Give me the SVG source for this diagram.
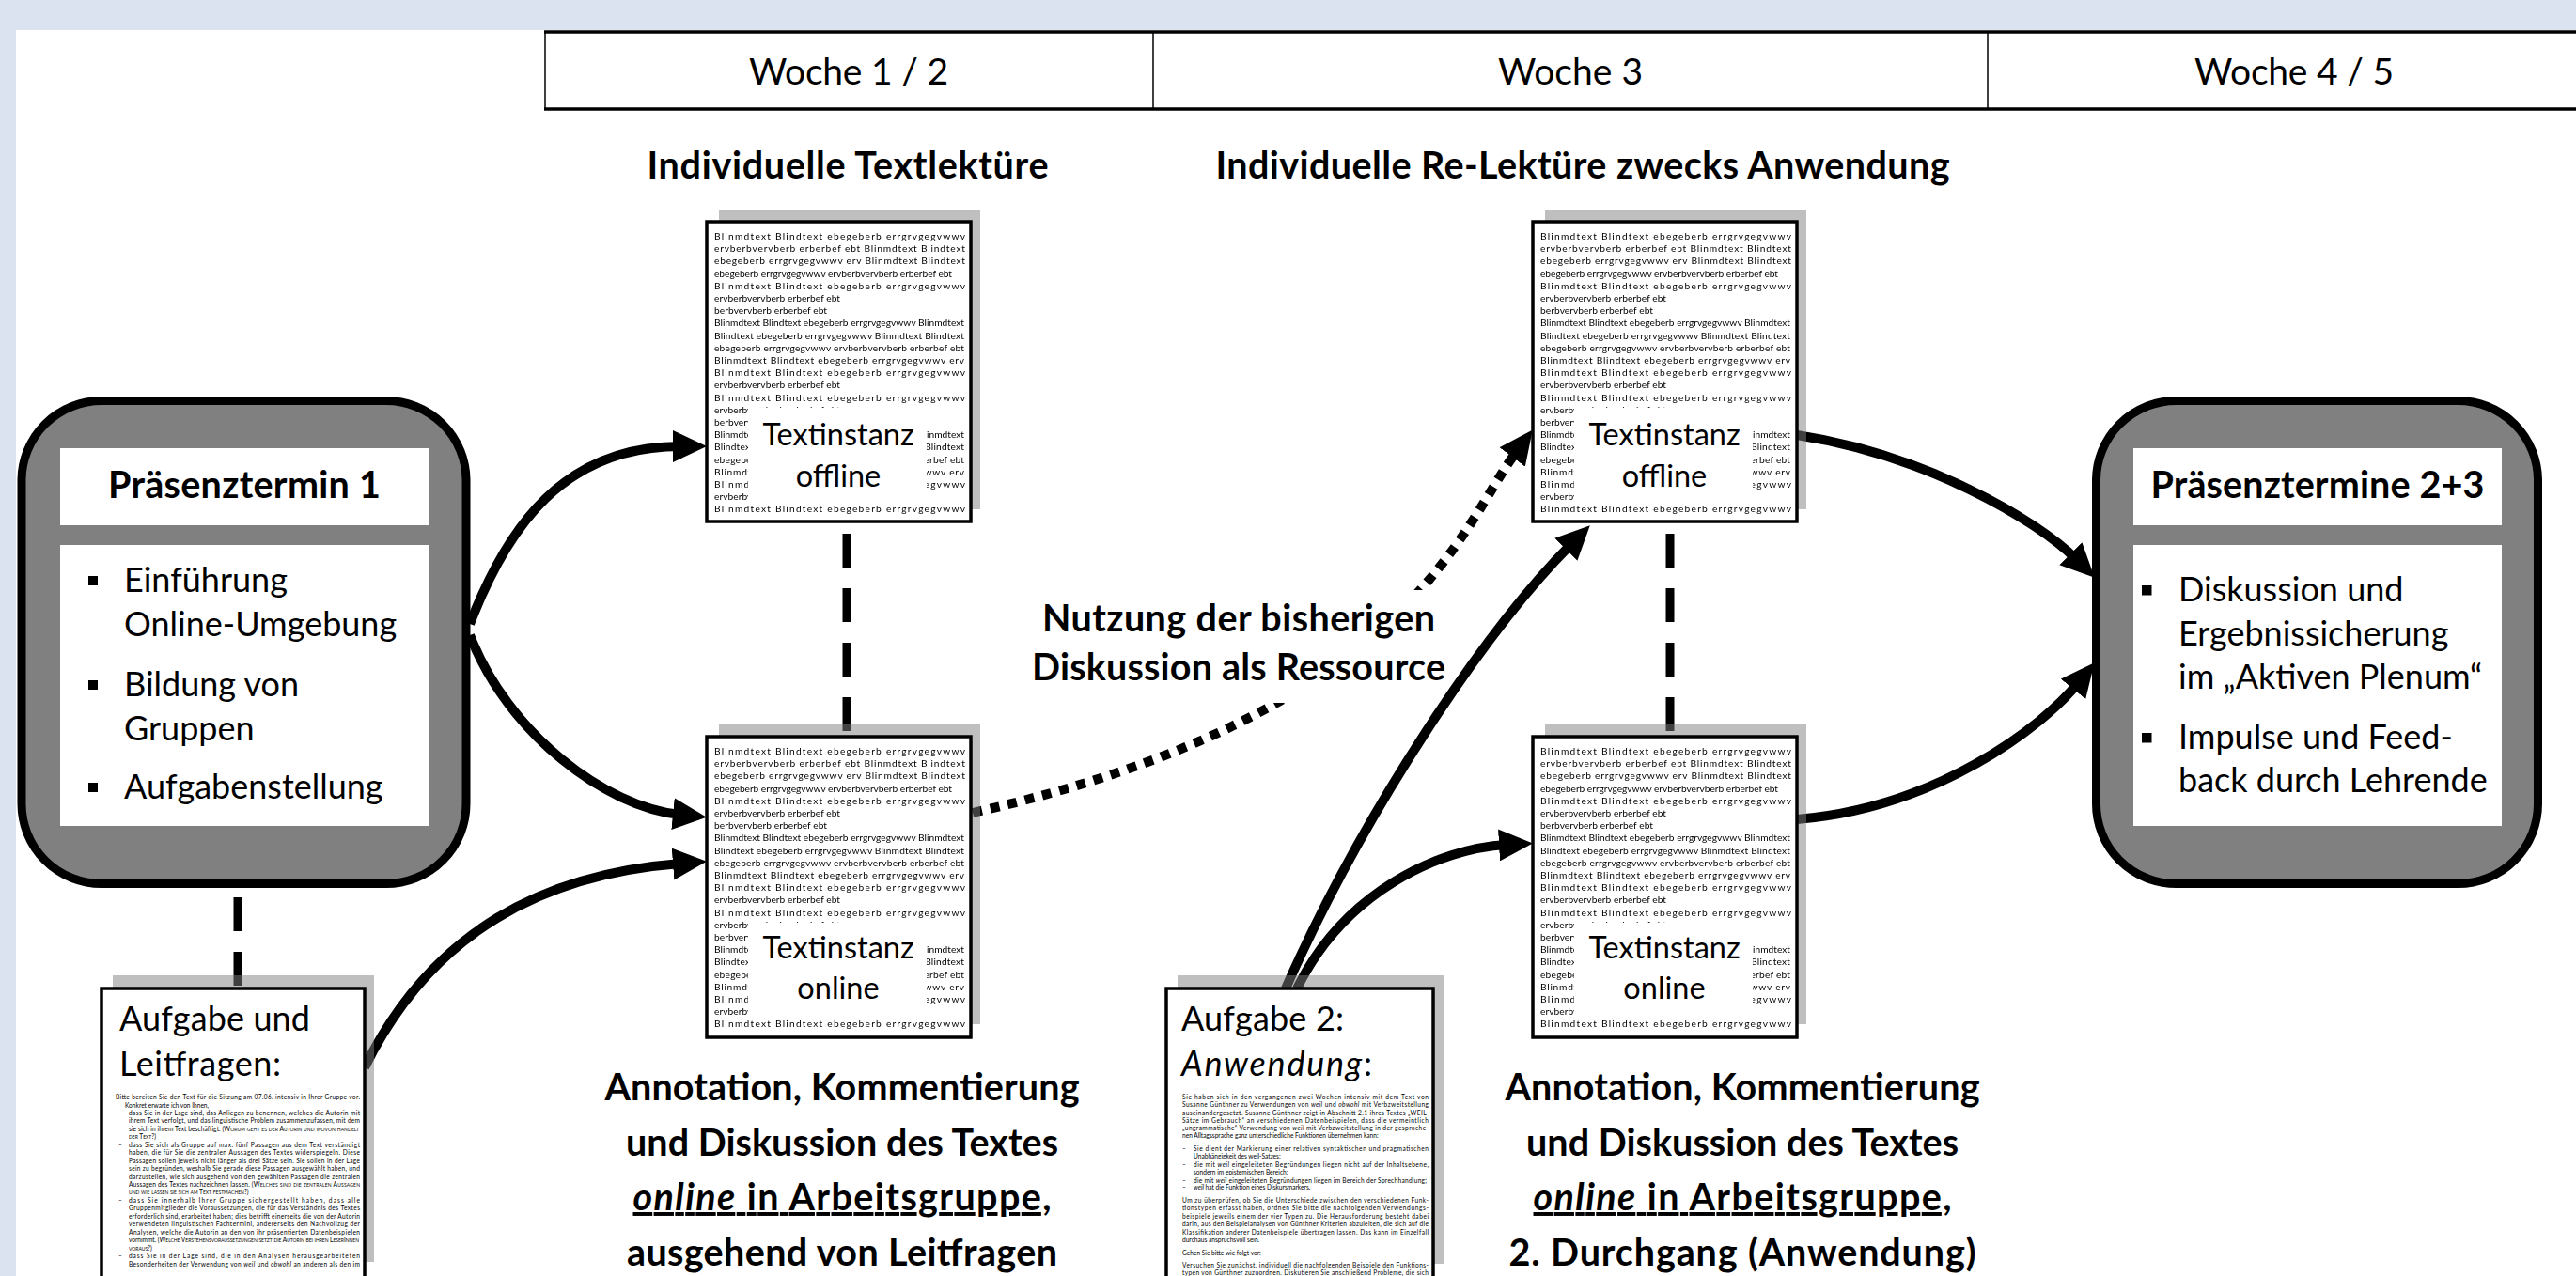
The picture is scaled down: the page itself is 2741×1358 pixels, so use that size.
<svg xmlns="http://www.w3.org/2000/svg" width="2741" height="1358" viewBox="0 0 2741 1358">
<style>
text{font-family:Lato,"Liberation Sans",sans-serif;fill:#000}
.b{font-weight:700}
.c{text-anchor:middle}
.i{font-style:italic}
.u{text-decoration:underline}
.sc{font-variant:small-caps}
.conn{fill:none;stroke:#000;stroke-width:10}
.dash{fill:none;stroke:#000;stroke-width:9;stroke-dasharray:36 22}
.dot{stroke-dasharray:10 9}
.shadow{fill:#808080;fill-opacity:.5}
.doc{fill:#fff;stroke:#000;stroke-width:3.5}
.box{fill:#808080;stroke:#000;stroke-width:9}
.wb{fill:#fff}
.bt{font-size:10.2px}
.tn{font-size:6.6px}
.gs{filter:url(#gray)}
.hd{font-size:39px}
.ttl{font-size:39.5px}
.lbl{font-size:32.5px}
.bul{font-size:36px}
.ag{font-size:36px}
</style>
<defs>
<filter id="gray" x="0" y="0" width="1" height="1"><feOffset dx="0" dy="0"/></filter>
<marker id="ah" markerUnits="userSpaceOnUse" viewBox="0 0 36 34" markerWidth="36" markerHeight="34" refX="8" refY="17" orient="auto"><path d="M0,0 L36,17 L0,34 Z"/></marker>
<g id="bl" class="bt">
<text x="8" y="19" textLength="267">Blinmdtext Blindtext ebegeberb errgrvgegvwwv</text>
<text x="8" y="32.2" textLength="267">ervberbvervberb erberbef ebt Blinmdtext Blindtext</text>
<text x="8" y="45.4" textLength="267">ebegeberb errgrvgegvwwv erv Blinmdtext Blindtext</text>
<text x="8" y="58.6" textLength="253">ebegeberb errgrvgegvwwv ervberbvervberb erberbef ebt</text>
<text x="8" y="71.8" textLength="267">Blinmdtext Blindtext ebegeberb errgrvgegvwwv</text>
<text x="8" y="85" textLength="134">ervberbvervberb erberbef ebt</text>
<text x="8" y="98.2" textLength="120">berbvervberb erberbef ebt</text>
<text x="8" y="111.4" textLength="266">Blinmdtext Blindtext ebegeberb errgrvgegvwwv Blinmdtext</text>
<text x="8" y="124.6" textLength="266">Blindtext ebegeberb errgrvgegvwwv Blinmdtext Blindtext</text>
<text x="8" y="137.8" textLength="266">ebegeberb errgrvgegvwwv ervberbvervberb erberbef ebt</text>
<text x="8" y="151" textLength="266">Blinmdtext Blindtext ebegeberb errgrvgegvwwv erv</text>
<text x="8" y="164.2" textLength="267">Blinmdtext Blindtext ebegeberb errgrvgegvwwv</text>
<text x="8" y="177.4" textLength="134">ervberbvervberb erberbef ebt</text>
<text x="8" y="190.6" textLength="267">Blinmdtext Blindtext ebegeberb errgrvgegvwwv</text>
<text x="8" y="203.8" textLength="134">ervberbvervberb erberbef ebt</text>
<text x="8" y="217" textLength="120">berbvervberb erberbef ebt</text>
<text x="8" y="230.2" textLength="266">Blinmdtext Blindtext ebegeberb errgrvgegvwwv Blinmdtext</text>
<text x="8" y="243.4" textLength="266">Blindtext ebegeberb errgrvgegvwwv Blinmdtext Blindtext</text>
<text x="8" y="256.6" textLength="266">ebegeberb errgrvgegvwwv ervberbvervberb erberbef ebt</text>
<text x="8" y="269.8" textLength="266">Blinmdtext Blindtext ebegeberb errgrvgegvwwv erv</text>
<text x="8" y="283" textLength="267">Blinmdtext Blindtext ebegeberb errgrvgegvwwv</text>
<text x="8" y="296.2" textLength="134">ervberbvervberb erberbef ebt</text>
<text x="8" y="309.4" textLength="267">Blinmdtext Blindtext ebegeberb errgrvgegvwwv</text>
</g>
</defs>

<rect x="0" y="0" width="2741" height="1358" fill="#dce3f0"/>
<rect x="17" y="32" width="2724" height="1326" fill="#fff"/>

<g id="header">
<line x1="579" y1="34" x2="2741" y2="34" stroke="#000" stroke-width="3.5"/>
<line x1="579" y1="116" x2="2741" y2="116" stroke="#000" stroke-width="3.5"/>
<line x1="580" y1="34" x2="580" y2="116" stroke="#000" stroke-width="1.5"/>
<line x1="1227" y1="34" x2="1227" y2="116" stroke="#000" stroke-width="1.5"/>
<line x1="2115" y1="34" x2="2115" y2="116" stroke="#000" stroke-width="1.5"/>
<text class="hd c" x="903" y="90" textLength="212">Woche 1 / 2</text>
<text class="hd c" x="1671" y="90" textLength="154">Woche 3</text>
<text class="hd c" x="2441" y="90" textLength="212">Woche 4 / 5</text>
</g>

<g id="phase-titles">
<text class="ttl b c" x="902" y="190" textLength="427">Individuelle Textlektüre</text>
<text class="ttl b c" x="1684" y="190" textLength="781">Individuelle Re-Lektüre zwecks Anwendung</text>
</g>

<g id="connectors">
<line class="dash" x1="901" y1="568" x2="901" y2="780"/>
<line class="dash" x1="1777" y1="568" x2="1777" y2="780"/>
<line class="dash" x1="253" y1="955" x2="253" y2="1052"/>
<path class="conn dot" d="M1035,865 C1500,760 1554,560 1614,480" marker-end="url(#ah)"/>
<g id="label-ressource">
<rect class="wb" x="1085" y="628" width="465" height="120"/>
<text class="ttl b c" x="1318" y="672" textLength="418">Nutzung der bisherigen</text>
<text class="ttl b c" x="1318" y="724" textLength="440">Diskussion als Ressource</text>
</g>
<path class="conn" d="M500,664 C540,560 600,475 724,475" marker-end="url(#ah)"/>
<path class="conn" d="M500,676 C540,780 644,859 724,867" marker-end="url(#ah)"/>
<path class="conn" d="M388,1136 C460,990 580,930 724,919" marker-end="url(#ah)"/>
<path class="conn" d="M1368,1052 C1450,866 1580,671 1672,579" marker-end="url(#ah)"/>
<path class="conn" d="M1380,1052 C1430,950 1530,903 1603,899" marker-end="url(#ah)"/>
<path class="conn" d="M1912,463 C2049,484 2167,553 2209,595" marker-end="url(#ah)"/>
<path class="conn" d="M1912,872 C2060,860 2173,774 2211,727" marker-end="url(#ah)"/>
</g>

<g id="praesenztermin1">
<rect class="box" x="23" y="426.5" width="473" height="514" rx="85"/>
<rect class="wb" x="64" y="477" width="392" height="82"/>
<text class="ttl b c" x="260" y="530" textLength="290">Präsenztermin 1</text>
<rect class="wb" x="64" y="580" width="392" height="299"/>
<rect x="94" y="613" width="10" height="10"/>
<rect x="94" y="724" width="10" height="10"/>
<rect x="94" y="833" width="10" height="10"/>
<text class="bul" x="132" y="630">Einführung</text>
<text class="bul" x="132" y="677">Online-Umgebung</text>
<text class="bul" x="132" y="741">Bildung von</text>
<text class="bul" x="132" y="788">Gruppen</text>
<text class="bul" x="132" y="850">Aufgabenstellung</text>
</g>

<g id="praesenztermine23">
<rect class="box" x="2230.5" y="426.5" width="470" height="514" rx="85"/>
<rect class="wb" x="2270" y="477" width="392" height="82"/>
<text class="ttl b c" x="2466" y="530" textLength="355">Präsenztermine 2+3</text>
<rect class="wb" x="2270" y="580" width="392" height="299"/>
<rect x="2279" y="623" width="10.5" height="10.5"/>
<rect x="2279" y="780" width="10.5" height="10.5"/>
<text class="bul" x="2318" y="640">Diskussion und</text>
<text class="bul" x="2318" y="687">Ergebnissicherung</text>
<text class="bul" x="2318" y="733">im „Aktiven Plenum“</text>
<text class="bul" x="2318" y="797">Impulse und Feed-</text>
<text class="bul" x="2318" y="843">back durch Lehrende</text>
</g>

<g id="doc-offline-1">
<rect class="shadow" x="765" y="223" width="278" height="319"/>
<rect class="doc" x="752" y="236" width="281" height="319"/>
<svg x="752" y="236" width="281" height="319" overflow="hidden">
<g class="gs"><use href="#bl"/></g>
<rect class="wb" x="44" y="198" width="190" height="102"/>
<text class="lbl c" x="140" y="238">Textinstanz</text>
<text class="lbl c" x="140" y="282">offline</text>
</svg>
</g>

<g id="doc-online-1">
<rect class="shadow" x="765" y="771" width="278" height="319"/>
<rect class="doc" x="752" y="784" width="281" height="320"/>
<svg x="752" y="784" width="281" height="320" overflow="hidden">
<g class="gs"><use href="#bl"/></g>
<rect class="wb" x="44" y="198" width="190" height="102"/>
<text class="lbl c" x="140" y="236">Textinstanz</text>
<text class="lbl c" x="140" y="279">online</text>
</svg>
</g>

<g id="doc-offline-2">
<rect class="shadow" x="1644" y="223" width="278" height="319"/>
<rect class="doc" x="1631" y="236" width="281" height="319"/>
<svg x="1631" y="236" width="281" height="319" overflow="hidden">
<g class="gs"><use href="#bl"/></g>
<rect class="wb" x="44" y="198" width="190" height="102"/>
<text class="lbl c" x="140" y="238">Textinstanz</text>
<text class="lbl c" x="140" y="282">offline</text>
</svg>
</g>

<g id="doc-online-2">
<rect class="shadow" x="1644" y="771" width="278" height="319"/>
<rect class="doc" x="1631" y="784" width="281" height="320"/>
<svg x="1631" y="784" width="281" height="320" overflow="hidden">
<g class="gs"><use href="#bl"/></g>
<rect class="wb" x="44" y="198" width="190" height="102"/>
<text class="lbl c" x="140" y="236">Textinstanz</text>
<text class="lbl c" x="140" y="279">online</text>
</svg>
</g>

<g id="doc-leitfragen">
<rect class="shadow" x="120" y="1038" width="278" height="305"/>
<rect class="doc" x="108" y="1052" width="280" height="330"/>
<text class="ag" x="127" y="1097" textLength="203">Aufgabe und</text>
<text class="ag" x="127" y="1145" textLength="172">Leitfragen:</text>
<g class="tn">
<text x="123" y="1170" textLength="260">Bitte bereiten Sie den Text für die Sitzung am 07.06. intensiv in Ihrer Gruppe vor.</text>
<text x="133" y="1178.5">Konkret erwarte ich von Ihnen,</text>
<text x="126" y="1186.9">–</text><text x="137" y="1186.9" textLength="246">dass Sie in der Lage sind, das Anliegen zu benennen, welches die Autorin mit</text>
<text x="137" y="1195.4" textLength="246">ihrem Text verfolgt, und das linguistische Problem zusammenzufassen, mit dem</text>
<text x="137" y="1203.8" textLength="245">sie sich in ihrem Text beschäftigt. (<tspan class="sc">Worum geht es der Autorin und wovon handelt</tspan></text>
<text x="137" y="1212.3" class="sc">der Text?)</text>
<text x="126" y="1220.7">–</text><text x="137" y="1220.7" textLength="246">dass Sie sich als Gruppe auf max. fünf Passagen aus dem Text verständigt</text>
<text x="137" y="1229.2" textLength="246">haben, die für Sie die zentralen Aussagen des Textes widerspiegeln. Diese</text>
<text x="137" y="1237.6" textLength="246">Passagen sollen jeweils nicht länger als drei Sätze sein. Sie sollen in der Lage</text>
<text x="137" y="1246.1" textLength="246">sein zu begründen, weshalb Sie gerade diese Passagen ausgewählt haben, und</text>
<text x="137" y="1254.5" textLength="246">darzustellen, wie sich ausgehend von den gewählten Passagen die zentralen</text>
<text x="137" y="1263" textLength="246">Aussagen des Textes nachzeichnen lassen. (<tspan class="sc">Welches sind die zentralen Aussagen</tspan></text>
<text x="137" y="1271.4" class="sc">und wie lassen sie sich am Text festmachen?)</text>
<text x="126" y="1279.9">–</text><text x="137" y="1279.9" textLength="246">dass Sie innerhalb Ihrer Gruppe sichergestellt haben, dass alle</text>
<text x="137" y="1288.3" textLength="246">Gruppenmitglieder die Voraussetzungen, die für das Verständnis des Textes</text>
<text x="137" y="1296.8" textLength="246">erforderlich sind, erarbeitet haben; dies betrifft einerseits die von der Autorin</text>
<text x="137" y="1305.2" textLength="246">verwendeten linguistischen Fachtermini, andererseits den Nachvollzug der</text>
<text x="137" y="1313.7" textLength="246">Analysen, welche die Autorin an den von ihr präsentierten Datenbeispielen</text>
<text x="137" y="1322.1" textLength="245">vornimmt. (<tspan class="sc">Welche Verstehensvoraussetzungen setzt die Autorin bei ihren LeserInnen</tspan></text>
<text x="137" y="1330.6" class="sc">voraus?)</text>
<text x="126" y="1339">–</text><text x="137" y="1339" textLength="246">dass Sie in der Lage sind, die in den Analysen herausgearbeiteten</text>
<text x="137" y="1347.5" textLength="246">Besonderheiten der Verwendung von <tspan class="i">weil</tspan> und <tspan class="i">obwohl</tspan> an anderen als den im</text>
</g>
</g>

<g id="doc-aufgabe2">
<rect class="shadow" x="1253" y="1038" width="284" height="307"/>
<rect class="doc" x="1241" y="1052" width="284" height="330"/>
<text class="ag" x="1257" y="1097" textLength="173">Aufgabe 2:</text>
<text class="ag" x="1257" y="1145" textLength="203"><tspan class="i">Anwendung</tspan>:</text>
<g class="tn">
<text x="1258" y="1169.5" textLength="262">Sie haben sich in den vergangenen zwei Wochen intensiv mit dem Text von</text>
<text x="1258" y="1178" textLength="262">Susanne Günthner zu Verwendungen von <tspan class="i">weil</tspan> und <tspan class="i">obwohl</tspan> mit Verbzweitstellung</text>
<text x="1258" y="1186.5" textLength="262">auseinandergesetzt. Susanne Günthner zeigt in Abschnitt 2.1 ihres Textes „WEIL-</text>
<text x="1258" y="1194.8" textLength="262">Sätze im Gebrauch“ an verschiedenen Datenbeispielen, dass die vermeintlich</text>
<text x="1258" y="1203.2" textLength="262">„ungrammatische“ Verwendung von <tspan class="i">weil</tspan> mit Verbzweitstellung in der gesproche-</text>
<text x="1258" y="1211">nen Alltagssprache ganz unterschiedliche Funktionen übernehmen kann:</text>
<text x="1258" y="1224.5">–</text><text x="1270" y="1224.5" textLength="250">Sie dient der Markierung einer relativen syntaktischen und pragmatischen</text>
<text x="1270" y="1232.5">Unabhängigkeit des weil-Satzes;</text>
<text x="1258" y="1241.5">–</text><text x="1270" y="1241.5" textLength="250">die mit <tspan class="i">weil</tspan> eingeleiteten Begründungen liegen nicht auf der Inhaltsebene,</text>
<text x="1270" y="1249.5">sondern im epistemischen Bereich;</text>
<text x="1258" y="1258.5">–</text><text x="1270" y="1258.5" textLength="248">die mit <tspan class="i">weil</tspan> eingeleiteten Begründungen liegen im Bereich der Sprechhandlung;</text>
<text x="1258" y="1266">–</text><text x="1270" y="1266"><tspan class="i">weil</tspan> hat die Funktion eines Diskursmarkers.</text>
<text x="1258" y="1279.5" textLength="262">Um zu überprüfen, ob Sie die Unterschiede zwischen den verschiedenen Funk-</text>
<text x="1258" y="1288" textLength="262">tionstypen erfasst haben, ordnen Sie bitte die nachfolgenden Verwendungs-</text>
<text x="1258" y="1296.5" textLength="262">beispiele jeweils einem der vier Typen zu. Die Herausforderung besteht dabei</text>
<text x="1258" y="1305" textLength="262">darin, aus den Beispielanalysen von Günthner Kriterien abzuleiten, die sich auf die</text>
<text x="1258" y="1313.5" textLength="262">Klassifikation anderer Datenbeispiele übertragen lassen. Das kann im Einzelfall</text>
<text x="1258" y="1321.8">durchaus anspruchsvoll sein.</text>
<text x="1258" y="1335.5">Gehen Sie bitte wie folgt vor:</text>
<text x="1258" y="1348.5" textLength="262">Versuchen Sie zunächst, individuell die nachfolgenden Beispiele den Funktions-</text>
<text x="1258" y="1357" textLength="262">typen von Günthner zuzuordnen. Diskutieren Sie anschließend Probleme, die sich</text>
</g>
</g>

<g id="caption-online-1">
<text class="ttl b c" x="896" y="1171" textLength="505">Annotation, Kommentierung</text>
<text class="ttl b c" x="896" y="1230" textLength="460">und Diskussion des Textes</text>
<text class="ttl b c" x="896" y="1288" textLength="445"><tspan class="u"><tspan class="i">online</tspan> in Arbeitsgruppe</tspan>,</text>
<text class="ttl b c" x="896" y="1347" textLength="458">ausgehend von Leitfragen</text>
</g>

<g id="caption-online-2">
<text class="ttl b c" x="1854" y="1171" textLength="505">Annotation, Kommentierung</text>
<text class="ttl b c" x="1854" y="1230" textLength="460">und Diskussion des Textes</text>
<text class="ttl b c" x="1854" y="1288" textLength="445"><tspan class="u"><tspan class="i">online</tspan> in Arbeitsgruppe</tspan>,</text>
<text class="ttl b c" x="1854" y="1347" textLength="497">2. Durchgang (Anwendung)</text>
</g>
</svg>
